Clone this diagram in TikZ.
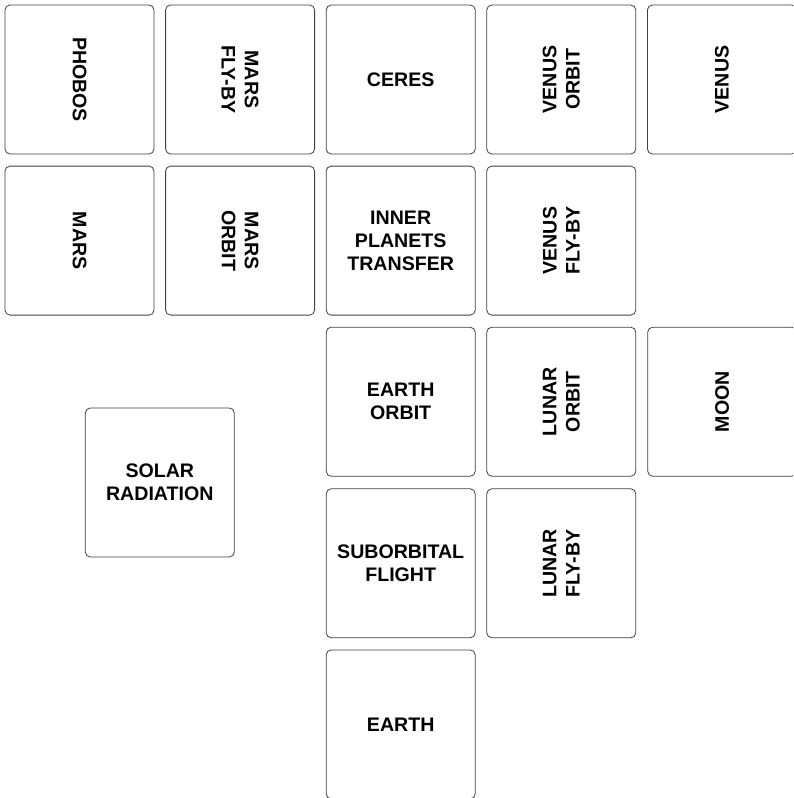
\documentclass[tikz,border=0pt]{standalone}
\usepackage{fontspec}
\setmainfont{Liberation Sans}
\begin{document}
\begin{tikzpicture}[x=1pt,y=-1pt,
  card/.style={draw=black!75, line width=0.8pt, rounded corners=5pt, fill=white,
    minimum width=149pt, minimum height=149pt, inner sep=0pt, align=center,
    font=\fontsize{19.6}{23.2}\selectfont\bfseries},
  cw/.style={card, rotate=-90},
  ccw/.style={card, rotate=90}]
\useasboundingbox (0,0) rectangle (793,798);
\clip (0,0) rectangle (793,798);
\fill[white] (0,0) rectangle (793,798);
% row 0
\node[cw]  (phobos) at (79.5,79.5) {PHOBOS};
\node[cw]  (marsfly) at (240.1,79.5) {MARS\\FLY-BY};
\node[card] (ceres) at (400.7,79.5) {CERES};
\node[ccw] (venusorbit) at (561.3,79.5) {VENUS\\ORBIT};
\node[ccw] (venus) at (721.9,79.5) {VENUS};
% row 1
\node[cw]  (mars) at (79.5,240.6) {MARS};
\node[cw]  (marsorbit) at (240.1,240.6) {MARS\\ORBIT};
\node[card] (inner) at (400.7,240.6) {INNER\\PLANETS\\TRANSFER};
\node[ccw] (venusfly) at (561.3,240.6) {VENUS\\FLY-BY};
% row 2
\node[card] (earthorbit) at (400.7,401.7) {EARTH\\ORBIT};
\node[ccw] (lunarorbit) at (561.3,401.7) {LUNAR\\ORBIT};
\node[ccw] (moon) at (722.2,401.7) {MOON};
\node[card] (solar) at (159.8,482.5) {SOLAR\\RADIATION};
% row 3
\node[card] (suborbital) at (400.7,563.3) {SUBORBITAL\\FLIGHT};
\node[ccw] (lunarfly) at (561.3,563.3) {LUNAR\\FLY-BY};
% row 4
\node[card] (earth) at (400.7,724.4) {EARTH};
\end{tikzpicture}
\end{document}
